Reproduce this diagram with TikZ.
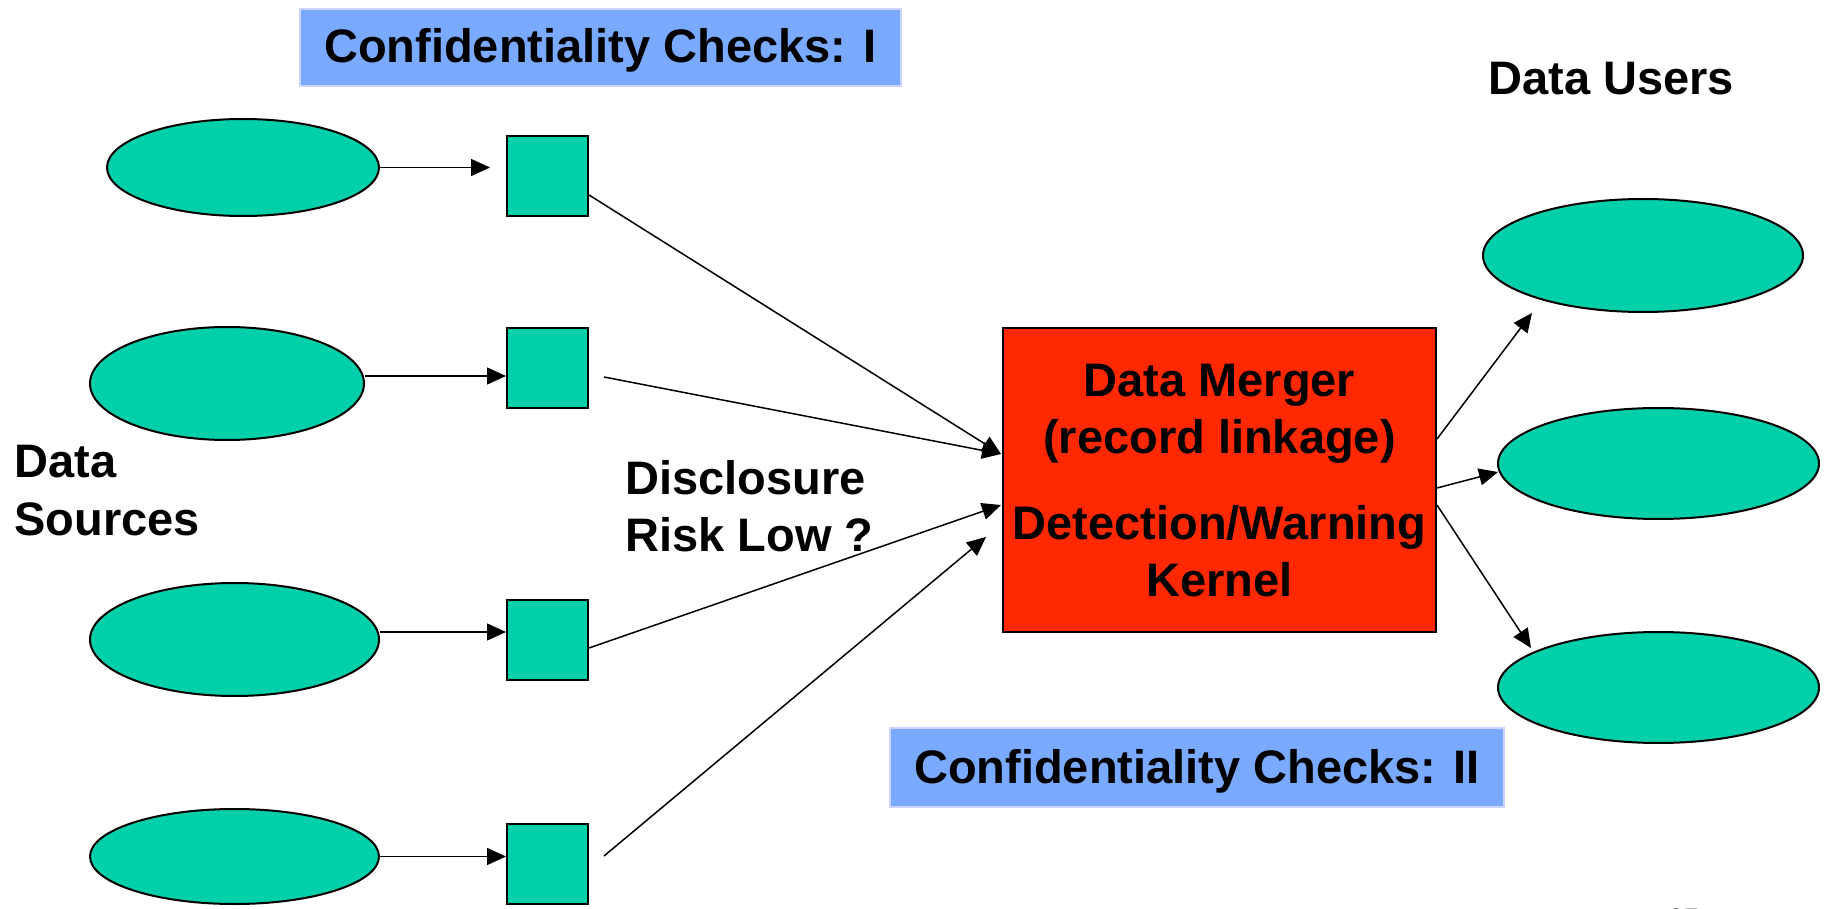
\documentclass[tikz,border=0pt]{standalone}
\usepackage{fontspec}
\setmainfont{Liberation Sans}
\usetikzlibrary{arrows.meta,calc,shapes.geometric}

\definecolor{srcgreen}{RGB}{0,208,170}
\definecolor{mergered}{RGB}{255,40,0}
\definecolor{checkblue}{RGB}{122,170,255}
\definecolor{checkrim}{RGB}{205,212,255}

\begin{document}
\begin{tikzpicture}[x = 0.5pt, y = -0.5pt,
  every node/.style = {font=\bfseries\fontsize{23.5}{28.5}\selectfont},
  store/.style = {ellipse, draw=black, line width=1pt, fill=srcgreen, inner sep=0pt},
  gate/.style = {rectangle, draw=black, line width=1pt, fill=srcgreen,
                 minimum width=40.5pt, minimum height=40pt, inner sep=0pt},
  checkbox/.style = {rectangle, draw=checkrim, line width=1pt, fill=checkblue,
                     inner sep=0pt, text height=17pt, text depth=1.5pt},
  feed/.style = {-{Triangle[length=9.5pt, width=8.5pt]}, line width=0.75pt}]

\useasboundingbox (0, 0) rectangle (1828, 909);

% sources on the left
\node[store, minimum width=136pt,   minimum height=48.5pt] (src1) at (243,   167.5) {};
\node[store, minimum width=137pt,   minimum height=56.5pt] (src2) at (227,   383.5) {};
\node[store, minimum width=144.5pt, minimum height=56.5pt] (src3) at (234.5, 639.5) {};
\node[store, minimum width=144.5pt, minimum height=47.5pt] (src4) at (234.5, 856.5) {};

\node[gate] (chk1) at (547.5, 176.5) {};
\node[gate] (chk2) at (547.5, 368)   {};
\node[gate] (chk3) at (547.5, 640)   {};
\node[gate] (chk4) at (547.5, 864)   {};

% users on the right
\node[store, minimum width=160pt,   minimum height=56.5pt] (usr1) at (1643,   255.5) {};
\node[store, minimum width=160.5pt, minimum height=55.5pt] (usr2) at (1658.5, 463.5) {};
\node[store, minimum width=160.5pt, minimum height=55.5pt] (usr3) at (1658.5, 687.5) {};

\node[rectangle, draw=black, line width=1pt, fill=mergered, minimum width=216.5pt,
      minimum height=152pt, align=center, inner sep=0pt, text depth=0pt] (merger) at (1219.5, 480)
      {Data Merger\\(record linkage)\\[14.5pt]Detection/Warning\\Kernel};

\node[checkbox, minimum width=300.5pt, minimum height=38.5pt] (checksI)  at (600.5, 47.5)
      {Confidentiality Checks: I};
\node[checkbox, minimum width=307pt,   minimum height=39.5pt] (checksII) at (1197, 767.5)
      {Confidentiality Checks: II};

% base of a two-line node sits on its last line
\node[anchor=base west, align=left, inner sep=0pt] (srclabel)  at (14, 535)  {Data\\Sources};
\node[anchor=base west, align=left, inner sep=0pt] (risklabel) at (625, 552) {Disclosure\\Risk Low ?};
\node[anchor=base west, inner sep=0pt] (usrlabel) at (1488, 95) {Data Users};
\node[anchor=base west, inner sep=0pt, font=\bfseries\fontsize{14}{17}\selectfont] (pagenum)
      at (1668, 928) {25};

% source -> check
\draw[feed, shorten >=8pt] (src1.east) -- (src1.east -| chk1.west);
\draw[feed] ([yshift=3.75pt]src2.east) -- ([yshift=3.75pt]src2.east -| chk2.west);
\draw[feed] ([yshift=3.75pt]src3.east) -- ([yshift=3.75pt]src3.east -| chk3.west);
\draw[feed] (src4.east) -- (src4.east -| chk4.west);

% check -> merger
\draw[feed] ($(chk1.east)+(0, 18.5)$) -- ($(merger.west)+(-1, -26)$);
\draw[feed] ($(chk2.east)+(15, 9)$)   -- ($(merger.west)+(-1, -26)$);
\draw[feed] ($(chk3.east)+(0, 8)$)    -- ($(merger.west)+(-1, 25)$);
\draw[feed] ($(chk4.east)+(15, -8)$)  -- ($(merger.west)+(-16, 57)$);

% merger -> users
\draw[feed] ($(merger.east)+(0, -41)$) -- ($(usr1.center)+(-111, 57.5)$);
\draw[feed] ($(merger.east)+(0, 8)$)   -- ($(usr2.west)+(1, 8.5)$);
\draw[feed] ($(merger.east)+(0, 25)$)  -- ($(usr3.center)+(-127.5, -39.5)$);

\end{tikzpicture}
\end{document}
